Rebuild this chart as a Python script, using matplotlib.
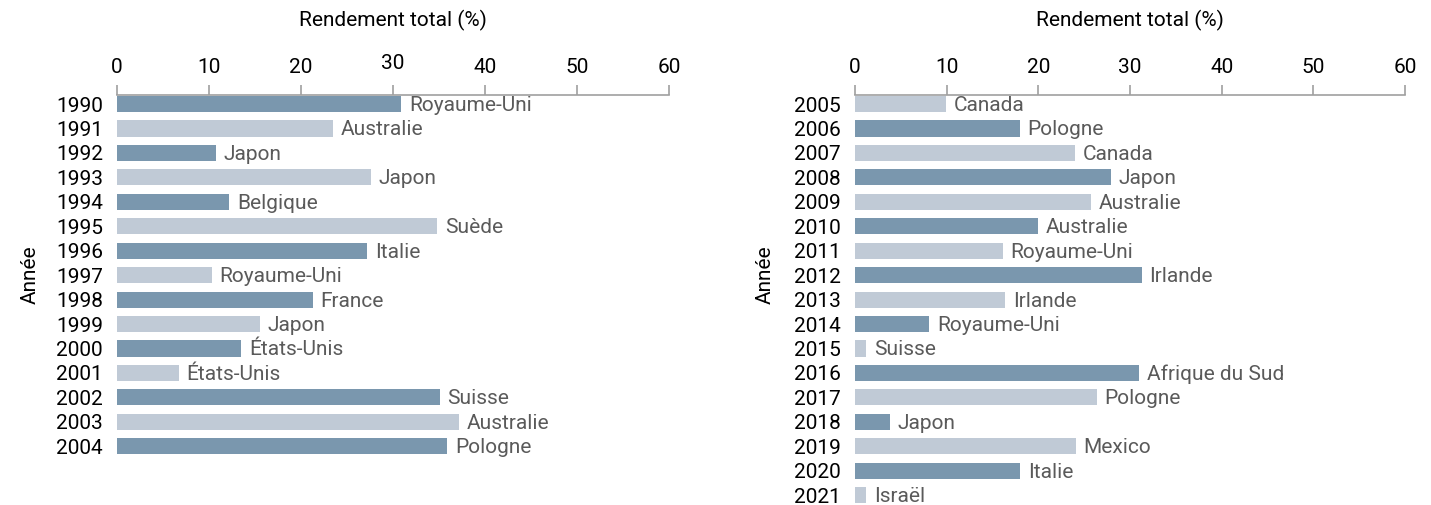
import matplotlib
matplotlib.use("Agg")
import matplotlib.pyplot as plt
import matplotlib.transforms as mtransforms

# ---- data ----
years_left = [1990, 1991, 1992, 1993, 1994, 1995, 1996, 1997, 1998, 1999,
              2000, 2001, 2002, 2003, 2004]
values_left = [30.9, 23.5, 10.8, 27.6, 12.2, 34.8, 27.2, 10.3, 21.3, 15.5,
               13.5, 6.7, 35.1, 37.2, 35.9]
countries_left = ["Royaume-Uni", "Australie", "Japon", "Japon", "Belgique",
                  "Suède", "Italie", "Royaume-Uni", "France", "Japon",
                  "États-Unis", "États-Unis", "Suisse", "Australie", "Pologne"]

years_right = [2005, 2006, 2007, 2008, 2009, 2010, 2011, 2012, 2013, 2014,
               2015, 2016, 2017, 2018, 2019, 2020, 2021]
values_right = [9.9, 18.0, 24.0, 27.9, 25.7, 20.0, 16.1, 31.3, 16.4, 8.1,
                1.2, 31.0, 26.4, 3.8, 24.1, 18.0, 1.2]
countries_right = ["Canada", "Pologne", "Canada", "Japon", "Australie",
                   "Australie", "Royaume-Uni", "Irlande", "Irlande", "Royaume-Uni",
                   "Suisse", "Afrique du Sud", "Pologne", "Japon", "Mexico",
                   "Italie", "Israël"]

x_ticks = [0, 10, 20, 30, 40, 50, 60]
x_label = "Rendement total (%)"
y_label = "Année"

DARK = "#7a97ae"
LIGHT = "#c0cad6"
LABEL_GRAY = "#5a5a5a"
SPINE_GRAY = "#a0a0a0"

plt.rcParams["font.family"] = ["Roboto", "DejaVu Sans"]

FS = 15

fig = plt.figure(figsize=(14.31, 5.05), dpi=100)
W, H = 1431, 505


def panel(x0_px, x1_px, years, values, countries, ylab_x_px, raise_30=False):
    top_px = 95
    ax = fig.add_axes([x0_px / W, 0, (x1_px - x0_px) / W, (H - top_px) / H])
    pos = list(range(len(years)))
    colors = [DARK if (y % 2 == 0) else LIGHT for y in years]
    ax.barh(pos, values, height=0.66, color=colors, linewidth=0)
    ax.set_xlim(0, 60)
    ax.set_ylim(16.4, -0.37)
    ax.set_yticks(pos)
    ax.set_yticklabels([str(y) for y in years], fontsize=FS)
    ax.tick_params(axis="y", length=0, pad=10)
    ax.xaxis.tick_top()
    ax.set_xticks(x_ticks)
    ax.set_xticklabels([str(t) for t in x_ticks], fontsize=FS)
    ax.tick_params(axis="x", length=7, width=1.2, color=SPINE_GRAY, pad=6, direction="out")
    for s in ["bottom", "left", "right"]:
        ax.spines[s].set_visible(False)
    ax.spines["top"].set_color(SPINE_GRAY)
    ax.spines["top"].set_linewidth(1.2)
    if raise_30:
        for lab in ax.get_xticklabels():
            if lab.get_text() == "30":
                lab.set_transform(lab.get_transform() +
                                  mtransforms.ScaledTranslation(0, 4 / 100, fig.dpi_scale_trans))
    for p, v, c in zip(pos, values, countries):
        ax.annotate(c, (v, p), xytext=(5.5, -1), textcoords="offset points",
                    va="center", ha="left", fontsize=FS, color=LABEL_GRAY)
    cx = (x0_px + x1_px) / 2 / W
    fig.text(cx, 1 - 20 / H, x_label, ha="center", va="center", fontsize=FS)
    fig.text(ylab_x_px / W, 1 - 275 / H, y_label, ha="center", va="center",
             rotation=90, fontsize=FS)
    return ax


panel(117, 669, years_left, values_left, countries_left, 30, raise_30=True)
panel(855, 1405, years_right, values_right, countries_right, 765)

fig.savefig("out.png", dpi=100)
